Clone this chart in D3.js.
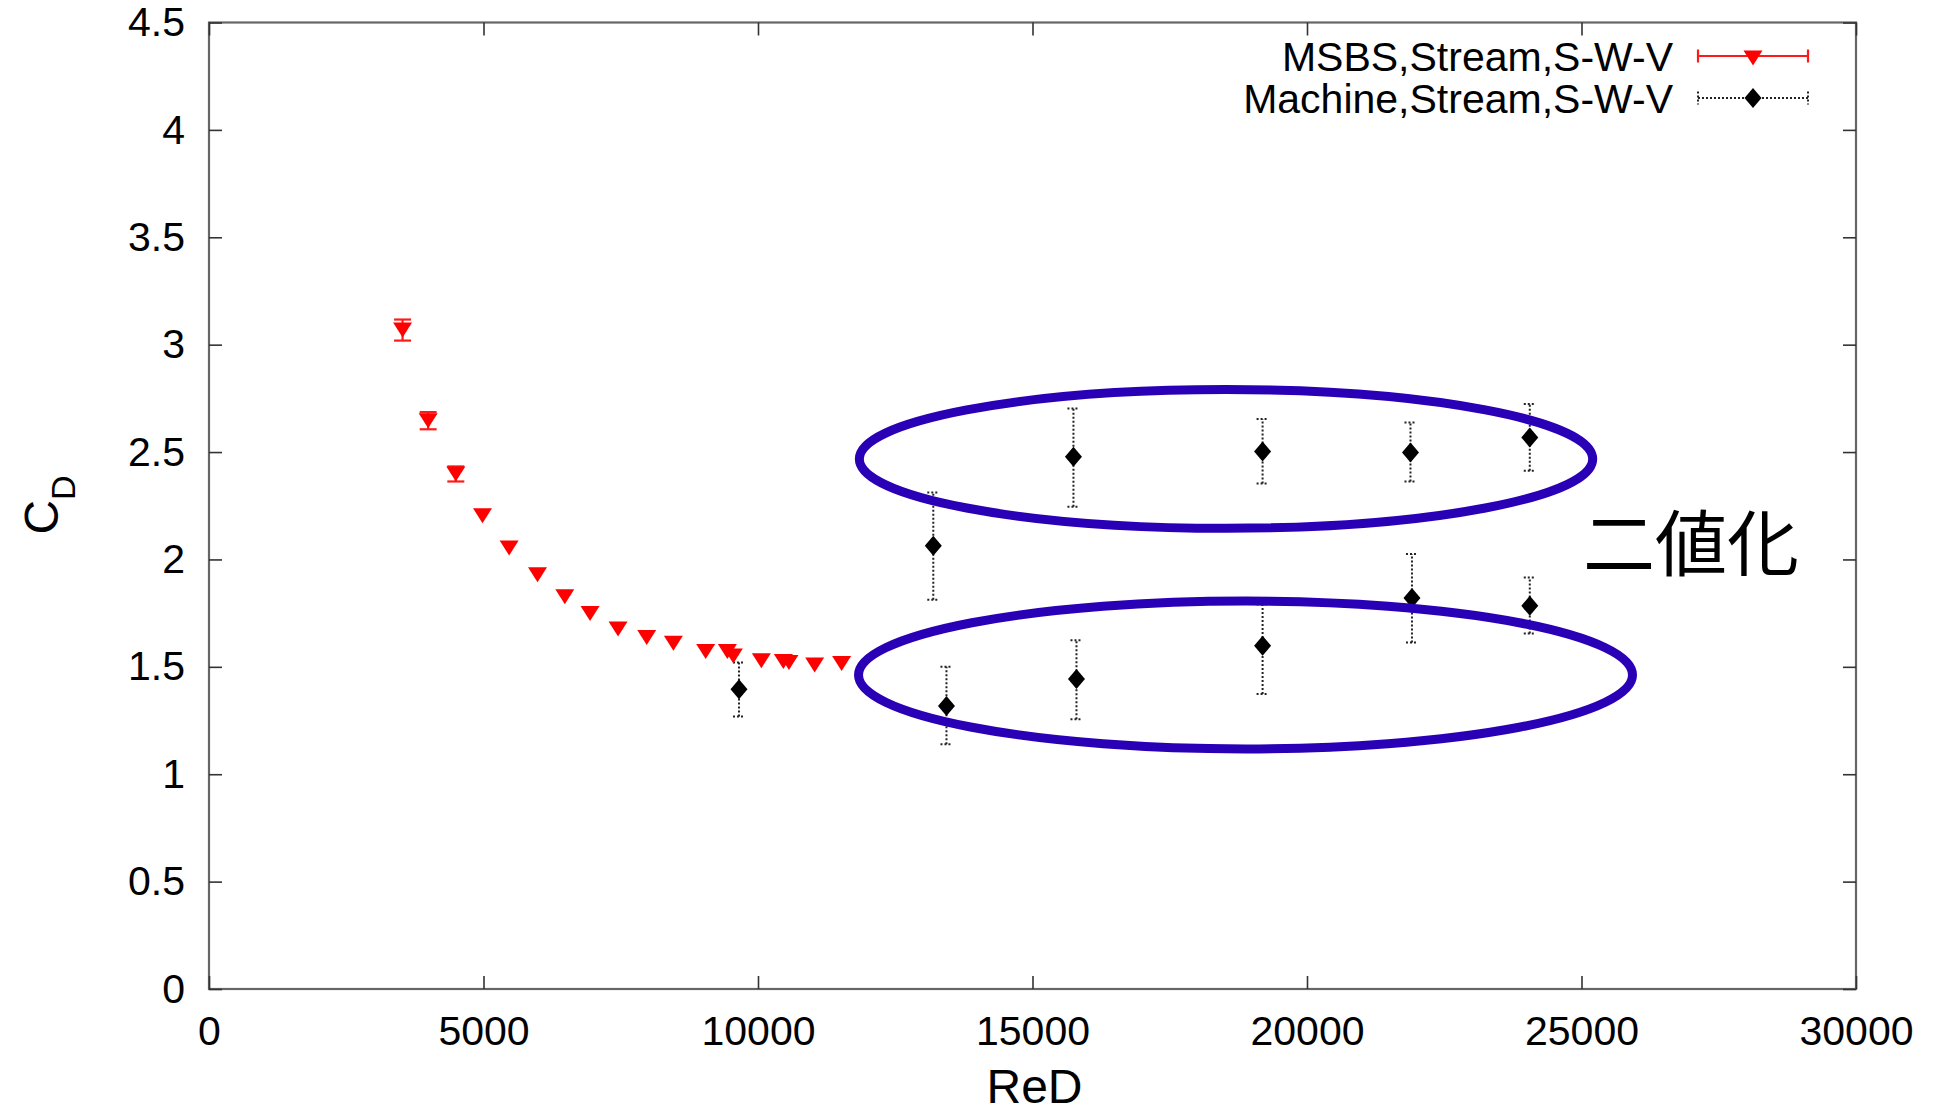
<!DOCTYPE html>
<html>
<head>
<meta charset="utf-8">
<script src="https://cdn.jsdelivr.net/npm/d3@7"></script>
<style>
    body { margin: 0; background: #fff; }
    #chart-area { width: 1941px; height: 1113px; }
</style>
</head>
<body>
<div id="chart-area"></div>
<script>
// MSBS, Stream, S-W-V (red triangles)
let msbsRe  = [3526, 3992, 4496, 4982, 5467, 5984, 6481, 6941, 7451, 7973, 8459, 9047, 9442, 9551, 10061, 10462, 10564, 11032, 11523];
let msbsCd  = [3.068, 2.646, 2.398, 2.203, 2.053, 1.929, 1.826, 1.748, 1.676, 1.636, 1.610, 1.571, 1.571, 1.551, 1.528, 1.525, 1.520, 1.508, 1.515];
let msbsErr = [0.049, 0.040, 0.035, 0, 0, 0, 0, 0, 0, 0, 0, 0, 0, 0, 0, 0, 0, 0, 0];

// Machine, Stream, S-W-V (black diamonds)
let machRe = [9654, 13193, 13433, 15746, 15801, 19191, 19191, 21885, 21912, 24058, 24058];
let machCd = [1.396, 2.064, 1.318, 2.478, 1.443, 2.503, 1.598, 2.498, 1.820, 2.568, 1.784];
let machLo = [1.269, 1.812, 1.140, 2.245, 1.256, 2.354, 1.373, 2.363, 1.613, 2.413, 1.655];
let machHi = [1.520, 2.312, 1.500, 2.703, 1.624, 2.654, 1.790, 2.638, 2.025, 2.724, 1.916];

let xTicks = [0, 5000, 10000, 15000, 20000, 25000, 30000];
let yTicks = [0, 0.5, 1, 1.5, 2, 2.5, 3, 3.5, 4, 4.5];

let legendLabels = ["MSBS,Stream,S-W-V", "Machine,Stream,S-W-V"];

// two groups circled on the chart (data units)
let groupCx = [18525, 18880];
let groupCy = [2.468, 1.462];
let groupRx = [6679, 7049];
let groupRy = [0.323, 0.344];
let groupLabel = "二値化";

cdVis = function(_parentElement) {
    this.parentElement = _parentElement;
    this.initVis();
};

cdVis.prototype.initVis = function() {
    let vis = this;

    vis.margin = {top: 22.5, right: 85, bottom: 124, left: 209};
    vis.width = 1941 - vis.margin.left - vis.margin.right;
    vis.height = 1113 - vis.margin.top - vis.margin.bottom;

    vis.svg = d3.select("#" + vis.parentElement).append("svg")
        .attr("width", 1941)
        .attr("height", 1113)
        .style("font-family", "'Liberation Sans', Arial, sans-serif")
        .append("g")
        .attr("transform", "translate(" + vis.margin.left + "," + vis.margin.top + ")");

    vis.x = d3.scaleLinear().domain([0, 30000]).range([0, vis.width]);
    vis.y = d3.scaleLinear().domain([0, 4.5]).range([vis.height, 0]);

    // frame
    vis.svg.append("rect")
        .attr("width", vis.width)
        .attr("height", vis.height)
        .attr("fill", "none")
        .attr("stroke", "#666")
        .attr("stroke-width", 2.2);

    // ticks pointing inward on all four sides (gnuplot mirror style)
    let tl = 13;
    vis.svg.append("g")
        .attr("transform", "translate(0," + vis.height + ")")
        .call(d3.axisBottom(vis.x).tickValues(xTicks).tickSize(-tl).tickPadding(tl + 14).tickFormat(d3.format("d")))
        .call(g => g.select(".domain").remove());
    vis.svg.append("g")
        .call(d3.axisTop(vis.x).tickValues(xTicks).tickSize(-tl).tickFormat(""))
        .call(g => g.select(".domain").remove());
    vis.svg.append("g")
        .call(d3.axisLeft(vis.y).tickValues(yTicks).tickSize(-tl).tickPadding(tl + 11).tickFormat(d => d))
        .call(g => g.select(".domain").remove());
    vis.svg.append("g")
        .attr("transform", "translate(" + vis.width + ",0)")
        .call(d3.axisRight(vis.y).tickValues(yTicks).tickSize(-tl).tickFormat(""))
        .call(g => g.select(".domain").remove());

    vis.svg.selectAll(".tick line").attr("stroke", "#333").attr("stroke-width", 1.6);
    vis.svg.selectAll(".tick text")
        .attr("font-family", "'Liberation Sans', Arial, sans-serif")
        .attr("font-size", "41px")
        .attr("fill", "#000");

    // axis titles
    vis.svg.append("text")
        .attr("x", vis.x(15000) + 2)
        .attr("y", 1103 - vis.margin.top)
        .attr("text-anchor", "middle")
        .attr("font-size", "48px")
        .attr("fill", "#000")
        .text("ReD");

    let yt = vis.svg.append("text")
        .attr("transform", "translate(" + (58 - vis.margin.left) + "," + (505 - vis.margin.top) + ") rotate(-90)")
        .attr("text-anchor", "middle")
        .attr("font-size", "48px")
        .attr("fill", "#000");
    yt.append("tspan").text("C");
    yt.append("tspan").attr("dy", 17).attr("font-size", "34px").text("D");

    this.wrangleData();
};

cdVis.prototype.wrangleData = function() {
    let vis = this;

    vis.msbs = msbsRe.map(function(d, i) {
        return {re: d, cd: msbsCd[i], lo: msbsCd[i] - msbsErr[i], hi: msbsCd[i] + msbsErr[i]};
    });
    vis.mach = machRe.map(function(d, i) {
        return {re: d, cd: machCd[i], lo: machLo[i], hi: machHi[i]};
    });
    vis.groups = groupCx.map(function(d, i) {
        return {cx: d, cy: groupCy[i], rx: groupRx[i], ry: groupRy[i]};
    });

    this.updateVis();
};

cdVis.prototype.updateVis = function() {
    let vis = this;

    let triPath = "M-9.5,-7.5L9.5,-7.5L0,7.5Z";
    let diaPath = "M0,-10L8.5,0L0,10L-8.5,0Z";

    // black error bars (dotted)
    let machBars = vis.svg.append("g").selectAll("g")
        .data(vis.mach).enter().append("g")
        .attr("stroke", "#222")
        .attr("stroke-width", 2)
        .attr("stroke-dasharray", "2,2");
    machBars.append("line")
        .attr("x1", d => vis.x(d.re)).attr("x2", d => vis.x(d.re))
        .attr("y1", d => vis.y(d.lo)).attr("y2", d => vis.y(d.hi));
    machBars.append("line")
        .attr("x1", d => vis.x(d.re) - 6).attr("x2", d => vis.x(d.re) + 6)
        .attr("y1", d => vis.y(d.lo)).attr("y2", d => vis.y(d.lo));
    machBars.append("line")
        .attr("x1", d => vis.x(d.re) - 6).attr("x2", d => vis.x(d.re) + 6)
        .attr("y1", d => vis.y(d.hi)).attr("y2", d => vis.y(d.hi));

    // red error bars (only where there is an error)
    let msbsBars = vis.svg.append("g").selectAll("g")
        .data(vis.msbs.filter(d => d.hi > d.lo)).enter().append("g")
        .attr("stroke", "#ff1a1a")
        .attr("stroke-width", 2.2);
    msbsBars.append("line")
        .attr("x1", d => vis.x(d.re)).attr("x2", d => vis.x(d.re))
        .attr("y1", d => vis.y(d.lo)).attr("y2", d => vis.y(d.hi));
    msbsBars.append("line")
        .attr("x1", d => vis.x(d.re) - 8.5).attr("x2", d => vis.x(d.re) + 8.5)
        .attr("y1", d => vis.y(d.lo)).attr("y2", d => vis.y(d.lo));
    msbsBars.append("line")
        .attr("x1", d => vis.x(d.re) - 8.5).attr("x2", d => vis.x(d.re) + 8.5)
        .attr("y1", d => vis.y(d.hi)).attr("y2", d => vis.y(d.hi));

    // markers
    vis.svg.append("g").selectAll("path")
        .data(vis.msbs).enter().append("path")
        .attr("d", triPath)
        .attr("transform", d => "translate(" + vis.x(d.re) + "," + vis.y(d.cd) + ")")
        .attr("fill", "#ff0000");

    vis.svg.append("g").selectAll("path")
        .data(vis.mach).enter().append("path")
        .attr("d", diaPath)
        .attr("transform", d => "translate(" + vis.x(d.re) + "," + vis.y(d.cd) + ")")
        .attr("fill", "#000");

    // legend
    let lg = vis.svg.append("g");
    let rowY = [56 - vis.margin.top, 98 - vis.margin.top];
    let lx0 = 1698 - vis.margin.left, lx1 = 1808 - vis.margin.left, lxm = 1753 - vis.margin.left;
    legendLabels.forEach(function(lab, i) {
        lg.append("text")
            .attr("x", 1673 - vis.margin.left)
            .attr("y", rowY[i])
            .attr("dy", "0.36em")
            .attr("text-anchor", "end")
            .attr("font-size", "41px")
            .attr("fill", "#000")
            .text(lab);
    });
    let r1 = lg.append("g").attr("stroke", "#ff1a1a").attr("stroke-width", 2.2);
    r1.append("line").attr("x1", lx0).attr("x2", lx1).attr("y1", rowY[0]).attr("y2", rowY[0]);
    r1.append("line").attr("x1", lx0).attr("x2", lx0).attr("y1", rowY[0] - 6.5).attr("y2", rowY[0] + 6.5);
    r1.append("line").attr("x1", lx1).attr("x2", lx1).attr("y1", rowY[0] - 6.5).attr("y2", rowY[0] + 6.5);
    lg.append("path").attr("d", triPath).attr("fill", "#ff0000")
        .attr("transform", "translate(" + lxm + "," + (rowY[0] + 2) + ")");
    let r2 = lg.append("g").attr("stroke", "#222").attr("stroke-width", 2).attr("stroke-dasharray", "2,2");
    r2.append("line").attr("x1", lx0).attr("x2", lx1).attr("y1", rowY[1]).attr("y2", rowY[1]);
    r2.append("line").attr("x1", lx0).attr("x2", lx0).attr("y1", rowY[1] - 6.5).attr("y2", rowY[1] + 6.5);
    r2.append("line").attr("x1", lx1).attr("x2", lx1).attr("y1", rowY[1] - 6.5).attr("y2", rowY[1] + 6.5);
    lg.append("path").attr("d", diaPath).attr("fill", "#000")
        .attr("transform", "translate(" + lxm + "," + rowY[1] + ")");

    // annotation ellipses
    vis.svg.append("g").selectAll("ellipse")
        .data(vis.groups).enter().append("ellipse")
        .attr("cx", d => vis.x(d.cx))
        .attr("cy", d => vis.y(d.cy))
        .attr("rx", d => vis.x(d.rx) - vis.x(0))
        .attr("ry", d => vis.y(0) - vis.y(d.ry))
        .attr("fill", "none")
        .attr("stroke", "#2a00b6")
        .attr("stroke-width", 9);

    vis.svg.append("text")
        .attr("x", 1583 - vis.margin.left)
        .attr("y", 545 - vis.margin.top)
        .attr("dy", "0.35em")
        .attr("font-family", "'Noto Sans CJK JP', 'Noto Sans CJK SC', sans-serif")
        .attr("font-size", "72px")
        .attr("fill", "#000")
        .text(groupLabel);
};

let myCdVis = new cdVis("chart-area");
</script>
</body>
</html>
